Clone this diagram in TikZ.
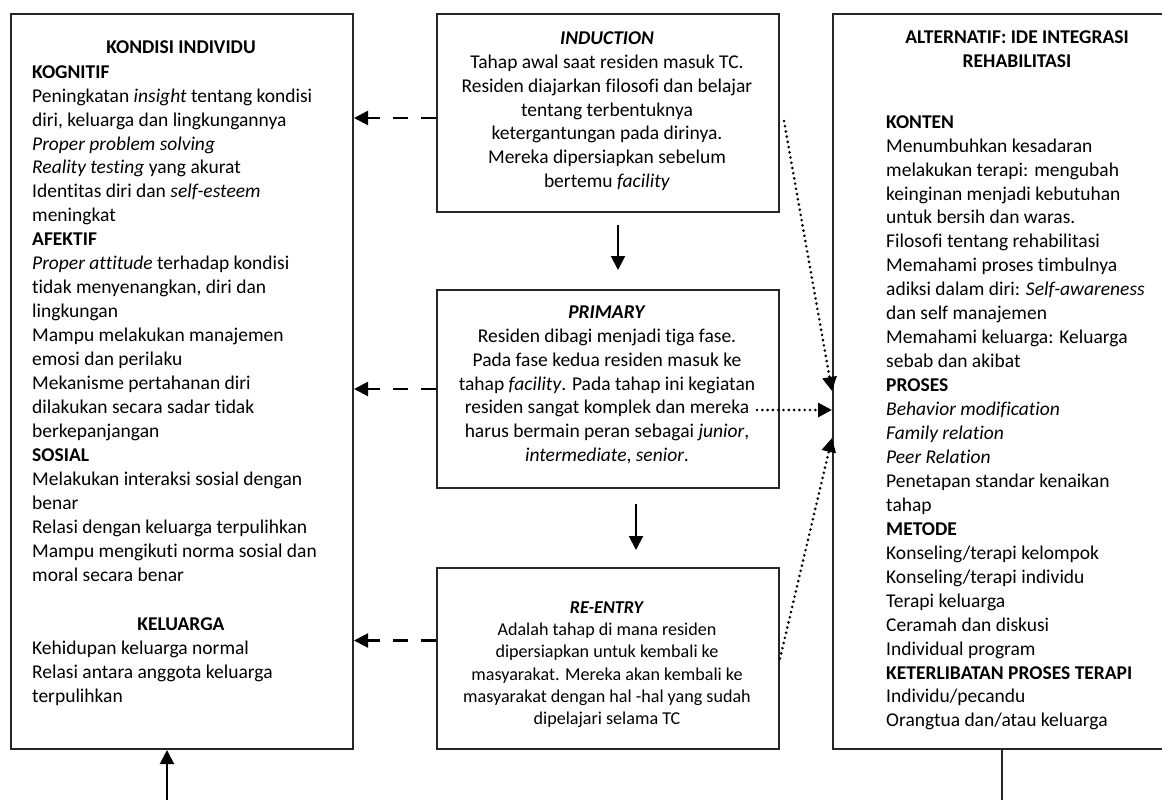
\documentclass[tikz,border=0pt]{standalone}
\usepackage{fontspec}
\setmainfont{Carlito}[Ligatures=NoCommon]
\usetikzlibrary{arrows.meta,calc}
\begin{document}
\begin{tikzpicture}[x=1pt,y=-1pt,
  box/.style={draw=black!85, line width=2pt, anchor=north west, inner sep=0pt},
  body/.style={inner sep=0pt, font=\fontsize{19.5}{23.95}\selectfont, align=left, anchor=north west},
  cbody/.style={inner sep=0pt, font=\fontsize{19.5}{23.95}\selectfont, align=center, anchor=north},
  rbody/.style={inner sep=0pt, font=\fontsize{18.1}{22.3}\selectfont, align=center, anchor=north},
  ctitle/.style={inner sep=0pt, font=\fontsize{19.5}{23.95}\selectfont\bfseries, anchor=base},
  tip/.style={-{Triangle[length=14pt,width=14pt]}},
  solidarrow/.style={tip, line width=2pt, black},
  dasharrow/.style={tip, line width=2.2pt, black, dash pattern=on 15pt off 13pt},
  dotarrow/.style={tip, line width=2.9pt, black, line cap=round, dash pattern=on 0pt off 5.3pt},
]
\useasboundingbox (0,0) rectangle (1162,800);
\clip (0,0) rectangle (1162,800);

% boxes
\node[box, minimum width=342pt, minimum height=735pt] (L) at (10,13) {};
\node[box, minimum width=342pt, minimum height=198pt] (ind) at (436,13) {};
\node[box, minimum width=342pt, minimum height=198pt] (pri) at (436,289) {};
\node[box, minimum width=342pt, minimum height=181pt] (ree) at (436,567) {};
\node[box, minimum width=373pt, minimum height=735pt] (R) at (832,13) {};

% left box texts
\node[ctitle] (Lt) at (181,54) {KONDISI INDIVIDU};
\node[body] (Lb) at (32,61.2) {\strut\textbf{KOGNITIF}\\
Peningkatan \textit{insight} tentang kondisi\\
diri, keluarga dan lingkungannya\\
\textit{Proper problem solving}\\
\textit{Reality testing} yang akurat\\
Identitas diri dan \textit{self-esteem}\\
meningkat\\
\textbf{AFEKTIF}\\
\textit{Proper attitude} terhadap kondisi\\
tidak menyenangkan, diri dan\\
lingkungan\\
Mampu melakukan manajemen\\
emosi dan perilaku\\
Mekanisme pertahanan diri\\
dilakukan secara sadar tidak\\
berkepanjangan\\
\textbf{SOSIAL}\\
Melakukan interaksi sosial dengan\\
benar\\
Relasi dengan keluarga terpulihkan\\
Mampu mengikuti norma sosial dan\\
moral secara benar};
\node[ctitle] (Lk) at (181,630) {KELUARGA};
\node[body] (Lb2) at (32,637.2) {\strut Kehidupan keluarga normal\\
Relasi antara anggota keluarga\\
terpulihkan};

% middle texts
\node[cbody] (indt) at (607,27.2) {\strut\textbf{\textit{INDUCTION}}\\
Tahap awal saat residen masuk TC.\\
Residen diajarkan filosofi dan belajar\\
tentang terbentuknya\\
ketergantungan pada dirinya.\\
Mereka dipersiapkan sebelum\\
bertemu \textit{facility}};
\node[cbody] (prit) at (607,301.2) {\strut\textbf{\textit{PRIMARY}}\\
Residen dibagi menjadi tiga fase.\\
Pada fase kedua residen masuk ke\\
tahap \textit{facility}. Pada tahap ini kegiatan\\
residen sangat komplek dan mereka\\
harus bermain peran sebagai \textit{junior},\\
\textit{intermediate}, \textit{senior}.};
\node[rbody] (reet) at (607,597.4) {\strut\textbf{\textit{RE-ENTRY}}\\
Adalah tahap di mana residen\\
dipersiapkan untuk kembali ke\\
masyarakat. Mereka akan kembali ke\\
masyarakat dengan hal -hal yang sudah\\
dipelajari selama TC};

% right box texts
\node[cbody, font=\fontsize{19.5}{23.95}\selectfont\bfseries] (Rt) at (1017,26.2) {\strut ALTERNATIF: IDE INTEGRASI\\REHABILITASI};
\node[body] (Rb) at (886,111.2) {\strut\textbf{KONTEN}\\
Menumbuhkan kesadaran\\
melakukan terapi: mengubah\\
keinginan menjadi kebutuhan\\
untuk bersih dan waras.\\
Filosofi tentang rehabilitasi\\
Memahami proses timbulnya\\
adiksi dalam diri: \textit{Self-awareness}\\
dan self manajemen\\
Memahami keluarga: Keluarga\\
sebab dan akibat\\
\textbf{PROSES}\\
\textit{Behavior modification}\\
\textit{Family relation}\\
\textit{Peer Relation}\\
Penetapan standar kenaikan\\
tahap\\
\textbf{METODE}\\
Konseling/terapi kelompok\\
Konseling/terapi individu\\
Terapi keluarga\\
Ceramah dan diskusi\\
Individual program\\
\textbf{KETERLIBATAN PROSES TERAPI}\\
Individu/pecandu\\
Orangtua dan/atau keluarga};

% connectors
\draw[solidarrow] ([xshift=10pt,yshift=-12pt]ind.south) -- ([xshift=10pt,yshift=19pt]pri.north);
\draw[solidarrow] ([xshift=28pt,yshift=-15pt]pri.south) -- ([xshift=28pt,yshift=17pt]ree.north);

\draw[dasharrow] ([yshift=-5pt]ind.west) -- ([yshift=-5pt]ind.west -| L.east);
\draw[dasharrow] (pri.west) -- (pri.west -| L.east);
\draw[dasharrow] ([yshift=18pt]ree.west) -- ([yshift=18pt]ree.west -| L.east);

\coordinate (d1) at (784,121);
\coordinate (d2) at (757,410);
\draw[dotarrow] (d1) -- ([yshift=-9.5pt]R.west);
\draw[dotarrow] (d2) -- (d2 -| R.west);
\draw[dotarrow] (ree.east) -- ([yshift=-56.5pt]R.west);

\coordinate (upstart) at (167,800);
\coordinate (rdown) at (1002,800);
\draw[solidarrow] (upstart) -- (upstart |- L.south);
\draw[line width=2pt, black!85] (rdown |- R.south) -- (rdown);
\end{tikzpicture}
\end{document}
